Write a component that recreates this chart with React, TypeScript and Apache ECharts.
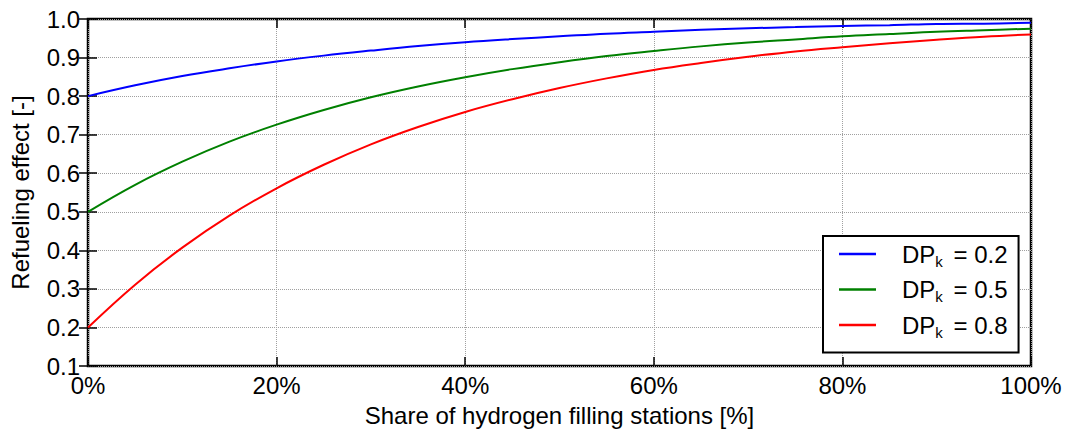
import React, { useEffect, useRef } from "react";
import * as echarts from "echarts";

// Share of hydrogen filling stations, in percent
const shares = [0, 5, 10, 15, 20, 25, 30, 35, 40, 45, 50, 55, 60, 65, 70, 75, 80, 85, 90, 95, 100];

// Refueling effect for each DP_k value
const effectDp02 = [0.8, 0.828, 0.852, 0.872, 0.89, 0.905, 0.918, 0.93, 0.94, 0.948, 0.955, 0.962, 0.967, 0.972, 0.976, 0.979, 0.982, 0.984, 0.987, 0.988, 0.99];
const effectDp05 = [0.5, 0.57, 0.63, 0.682, 0.726, 0.764, 0.797, 0.825, 0.849, 0.87, 0.888, 0.904, 0.917, 0.929, 0.939, 0.947, 0.955, 0.961, 0.967, 0.971, 0.975];
const effectDp08 = [0.2, 0.311, 0.407, 0.49, 0.561, 0.622, 0.675, 0.72, 0.759, 0.792, 0.821, 0.846, 0.868, 0.886, 0.902, 0.916, 0.927, 0.937, 0.946, 0.954, 0.96];

const seriesNames = ["0.2", "0.5", "0.8"];
const seriesColors = ["#0000ff", "#008000", "#ff0000"];
const seriesValues = [effectDp02, effectDp05, effectDp08];

const FONT = "'Liberation Sans', Arial, sans-serif";

export default function App() {
  const ref = useRef<HTMLDivElement>(null);

  useEffect(() => {
    if (!ref.current) return;
    const chart = echarts.init(ref.current, null, { renderer: "svg" });

    const tickStyle = { show: true, inside: true, length: 9, lineStyle: { color: "#000", width: 1.5 } };
    const gridLine = { show: true, lineStyle: { color: "#a0a0a0", type: "dotted" as const, width: 1 } };

    chart.setOption({
      animation: false,
      backgroundColor: "#fff",
      grid: {
        left: 88,
        top: 19,
        right: 40,
        bottom: 71,
        show: true,
        borderColor: "#000",
        borderWidth: 2.5,
        backgroundColor: "transparent",
      },
      xAxis: [
        {
          type: "value",
          min: 0,
          max: 100,
          interval: 20,
          name: "Share of hydrogen filling stations [%]",
          nameLocation: "middle",
          nameGap: 37,
          nameTextStyle: { fontFamily: FONT, fontSize: 24, color: "#000" },
          axisLine: { show: false },
          axisTick: tickStyle,
          axisLabel: {
            formatter: "{value}%",
            fontFamily: FONT,
            fontSize: 24,
            color: "#000",
            margin: 7,
          },
          splitLine: gridLine,
        },
        {
          type: "value",
          position: "top",
          min: 0,
          max: 100,
          interval: 20,
          axisLine: { show: false },
          axisTick: tickStyle,
          axisLabel: { show: false },
          splitLine: { show: false },
        },
      ],
      yAxis: [
        {
          type: "value",
          min: 0.1,
          max: 1.0,
          interval: 0.1,
          name: "Refueling effect [-]",
          nameLocation: "middle",
          nameGap: 56,
          nameTextStyle: { fontFamily: FONT, fontSize: 24, color: "#000" },
          axisLine: { show: false },
          axisTick: tickStyle,
          axisLabel: {
            formatter: (v: number) => v.toFixed(1),
            fontFamily: FONT,
            fontSize: 24,
            color: "#000",
            margin: 8,
          },
          splitLine: gridLine,
        },
        {
          type: "value",
          position: "right",
          min: 0.1,
          max: 1.0,
          interval: 0.1,
          axisLine: { show: false },
          axisTick: tickStyle,
          axisLabel: { show: false },
          splitLine: { show: false },
        },
      ],
      legend: {
        orient: "vertical",
        left: 823,
        top: 236,
        padding: [6, 11, 13, 16],
        itemGap: 9,
        itemWidth: 37,
        itemHeight: 2.5,
        icon: "rect",
        borderColor: "#000",
        borderWidth: 2,
        backgroundColor: "#fff",
        data: seriesNames,
        formatter: (name: string) => `{a|DP}{b|k}{c| = ${name}}`,
        textStyle: {
          fontFamily: FONT,
          color: "#000",
          rich: {
            a: { fontFamily: FONT, fontSize: 24, lineHeight: 29, color: "#000", padding: [0, 0, 0, 21], verticalAlign: "middle" },
            b: { fontFamily: FONT, fontSize: 15, lineHeight: 12, color: "#000", verticalAlign: "bottom" },
            c: { fontFamily: FONT, fontSize: 24, lineHeight: 29, color: "#000", padding: [0, 0, 0, 4], verticalAlign: "middle" },
          },
        },
      },
      series: seriesValues.map((vals, i) => ({
        name: seriesNames[i],
        type: "line",
        data: shares.map((s, j) => [s, vals[j]]),
        smooth: 0.4,
        symbol: "none",
        showSymbol: false,
        color: seriesColors[i],
        lineStyle: { color: seriesColors[i], width: 2 },
        z: 3,
      })),
    });

    return () => chart.dispose();
  }, []);

  return <div ref={ref} style={{ width: 1071, height: 437, margin: -8 }} />;
}
